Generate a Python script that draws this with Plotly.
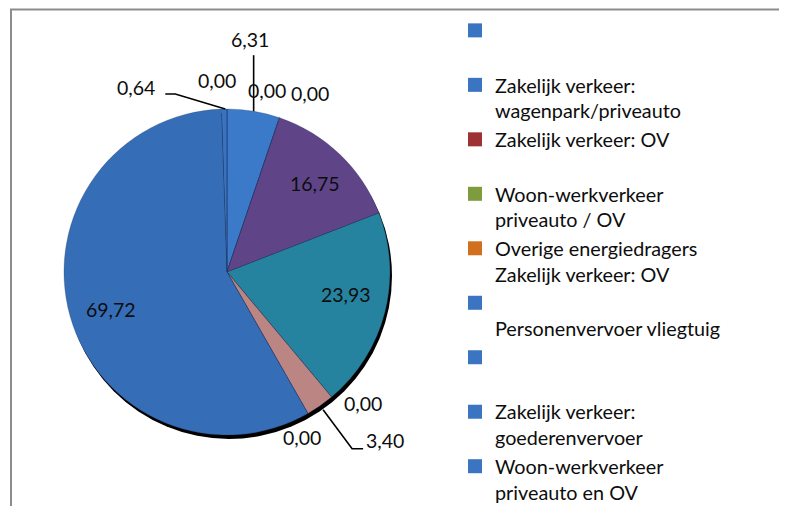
import math
import plotly.graph_objects as go

# ---------------- data ----------------
slice_values = [6.31, 0.00, 0.00, 16.75, 23.93, 0.00, 3.40, 0.00, 69.72, 0.64, 0.00]
slice_ids = ["s%d" % i for i in range(len(slice_values))]
slice_colors = ["#3a7ac8", "#9c3232", "#7e9c3e", "#5f4588", "#2683a0", "#d0701e",
                "#bb8583", "#3a74c0", "#366db7", "#3a74c0", "#3a78c4"]

legend_names = [
    "\u00a0<br>\u00a0",
    "Zakelijk verkeer:<br>wagenpark/priveauto",
    "Zakelijk verkeer: OV<br>\u00a0",
    "Woon-werkverkeer<br>priveauto / OV",
    "Overige energiedragers<br>Zakelijk verkeer: OV",
    "\u00a0<br>Personenvervoer vliegtuig",
    "\u00a0<br>\u00a0",
    "Zakelijk verkeer:<br>goederenvervoer",
    "Woon-werkverkeer<br>priveauto en OV",
]
legend_colors = ["#3b74c0", "#3b74c0", "#9c3232", "#7e9c3e", "#d0701e",
                 "#3b74c0", "#3b74c0", "#3b74c0", "#3b74c0"]

# ---------------- style / layout ----------------
W, H = 787, 506
OFF = 8  # page body margin
CX, CY, R = 227, 272, 163  # screen pixels
FONT = "Lato"
FS = 19.5
LEG_FS = 19.8

# pixel offsets of each value label from the slice's outer-edge midpoint
label_offsets = [(-4, -72), (-13, -27), (30, -24), (-25, 29), (-39, -18),
                 (31, 6), (65, 35), (-6, 24), (41, -7), (-88, -22), (-10, -29)]
# leader line waypoints (relative to slice edge midpoint)
leaders = {
    0: [(0, 0), (0, -56)],
    6: [(3, 4), (32, 43), (43, 43)],
    9: [(1, 0), (-49, -15), (-59, -15)],
}


def px(x, y):
    return (x - OFF) / W, 1 - (y - OFF) / H


total = sum(slice_values)
cum = 0.0
mid_angles = []
for v in slice_values:
    a0 = cum / total * 360
    cum += v
    a1 = cum / total * 360
    mid_angles.append(math.radians((a0 + a1) / 2))

fig = go.Figure()


def dom(cx, cy, r):
    x0, y1 = px(cx - r, cy - r)
    x1, y0 = px(cx + r, cy + r)
    return dict(x=[x0, x1], y=[y0, y1])


# shadow rim (offset black pie)
fig.add_trace(go.Pie(
    values=[1], labels=["shadow"], sort=False, textinfo="none", hoverinfo="skip",
    showlegend=False, marker=dict(colors=["#000000"], line=dict(width=0)),
    domain=dom(CX + 2, CY + 4, R),
))

fig.add_trace(go.Pie(
    values=slice_values, labels=slice_ids, sort=False, direction="clockwise",
    rotation=0, textinfo="none", hoverinfo="skip", showlegend=False,
    marker=dict(colors=slice_colors, line=dict(color="rgba(30,50,90,0.45)", width=0.6)),
    domain=dom(CX, CY, R),
))

for name, col in zip(legend_names, legend_colors):
    fig.add_trace(go.Scatter(
        x=[None], y=[None], mode="markers", name=name, hoverinfo="skip",
        marker=dict(symbol="square", size=14, color=col, line=dict(width=0)),
    ))

annotations = []
shapes = []
for i, v in enumerate(slice_values):
    th = mid_angles[i]
    ax_, ay_ = CX + R * math.sin(th), CY - R * math.cos(th)
    ox, oy = label_offsets[i]
    lx, ly = px(ax_ + ox, ay_ + oy)
    annotations.append(dict(
        x=lx, y=ly, xref="paper", yref="paper", text=("%.2f" % v).replace(".", ","),
        showarrow=False, xanchor="center", yanchor="middle",
        font=dict(family=FONT, size=FS, color="#0d0d0d"),
    ))
    if i in leaders:
        pts = [px(ax_ + a, ay_ + b) for a, b in leaders[i]]
        path = "M " + " L ".join("%f,%f" % p for p in pts)
        shapes.append(dict(type="path", xref="paper", yref="paper", path=path,
                           line=dict(color="#000000", width=1.6)))

# chart frame (extends past right/bottom edges)
fx0, fy0 = px(11, 9.5)
shapes.append(dict(type="rect", xref="paper", yref="paper",
                   x0=fx0, y0=fy0, x1=1.1, y1=-0.1,
                   line=dict(color="#8c8c8c", width=2), layer="below"))

lgx, lgy = px(455, 11)
fig.update_layout(
    width=W, height=H,
    margin=dict(l=0, r=0, t=0, b=0),
    paper_bgcolor="white", plot_bgcolor="white",
    xaxis=dict(visible=False), yaxis=dict(visible=False),
    annotations=annotations, shapes=shapes,
    legend=dict(x=lgx, y=lgy, xanchor="left", yanchor="top", maxheight=1,
                valign="top", font=dict(family=FONT, size=LEG_FS, color="#0d0d0d"),
                bgcolor="rgba(0,0,0,0)", tracegroupgap=0, itemclick=False,
                itemdoubleclick=False),
    font=dict(family=FONT),
)

fig.write_html("out.html")
